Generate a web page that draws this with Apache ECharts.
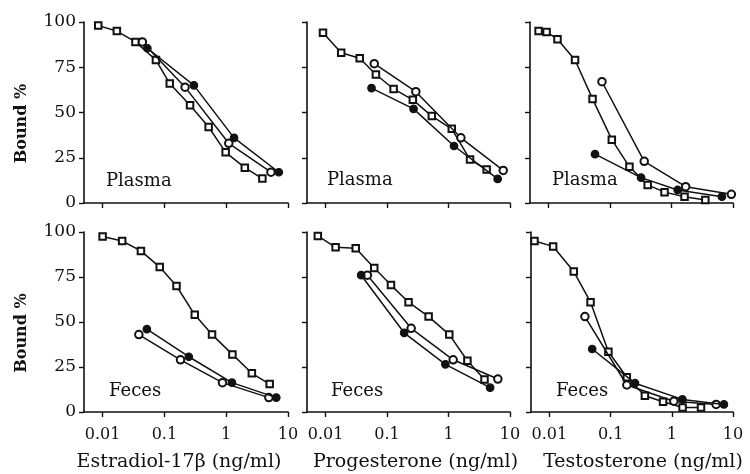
<!DOCTYPE html>
<html>
<head>
<meta charset="utf-8">
<script src="https://cdn.jsdelivr.net/npm/echarts@6/dist/echarts.min.js"></script>
<style>
html,body{margin:0;padding:0;background:#fff;}
#chart{width:750px;height:474px;}
</style>
</head>
<body>
<div id="chart"></div>
<script>
// ---- data: [concentration (ng/ml), bound %] ----
const estradiolPlasmaSquares = [[0.0085,98],[0.017,95],[0.034,89],[0.073,79],[0.122,66],[0.26,54],[0.52,42],[0.98,28],[2.0,19.5],[3.85,13.5]];
const estradiolPlasmaOpen    = [[0.044,89],[0.216,64],[1.1,33],[5.3,17]];
const estradiolPlasmaFilled  = [[0.053,85.5],[0.30,65],[1.34,36],[7.1,17]];

const progesteronePlasmaSquares = [[0.0091,94],[0.018,83],[0.036,80],[0.066,71],[0.128,63],[0.263,57],[0.535,48],[1.13,41],[2.24,24],[4.17,18.5]];
const progesteronePlasmaOpen    = [[0.062,77],[0.294,61.5],[1.59,36],[7.76,18]];
const progesteronePlasmaFilled  = [[0.056,63.5],[0.27,52],[1.23,31.5],[6.3,13.3]];

const testosteronePlasmaSquares = [[0.0069,95],[0.0093,94.5],[0.014,90.5],[0.027,79],[0.052,57.5],[0.107,35],[0.207,20],[0.41,10],[0.77,6],[1.63,3.5],[3.55,1.7]];
const testosteronePlasmaOpen    = [[0.074,67],[0.36,23],[1.7,9],[9.4,4.8]];
const testosteronePlasmaFilled  = [[0.057,27],[0.32,14],[1.26,7.2],[6.6,3.5]];

const estradiolFecesSquares = [[0.01,97.5],[0.0207,95],[0.0417,89.5],[0.084,80.5],[0.157,70],[0.31,54],[0.59,43],[1.26,32],[2.6,21.5],[5.05,15.5]];
const estradiolFecesOpen    = [[0.0386,43],[0.182,29],[0.87,16.3],[4.9,8]];
const estradiolFecesFilled  = [[0.052,46],[0.248,30.7],[1.24,16.3],[6.46,8]];

const progesteroneFecesSquares = [[0.0075,97.8],[0.0146,91.5],[0.031,91],[0.062,80],[0.116,70.5],[0.224,61],[0.475,53],[1.03,43],[2.03,28.5],[3.85,18]];
const progesteroneFecesOpen    = [[0.048,76],[0.247,46.5],[1.19,29],[6.35,18.3]];
const progesteroneFecesFilled  = [[0.038,76],[0.19,44],[0.89,26.5],[4.75,13.5]];

const testosteroneFecesSquares = [[0.0057,95],[0.0115,92],[0.025,78],[0.047,61],[0.092,33.5],[0.184,19.3],[0.363,9],[0.72,5.7],[1.5,2.5],[3.0,2.5]];
const testosteroneFecesOpen    = [[0.038,53],[0.184,15],[1.08,6],[5.3,4.2]];
const testosteroneFecesFilled  = [[0.05,35],[0.25,16],[1.49,7],[7.1,4.2]];

const xTickValues = [0.01, 0.1, 1, 10];
const yTickValues = [0, 25, 50, 75, 100];
const panelLabels = ['Plasma','Plasma','Plasma','Feces','Feces','Feces'];
const xAxisNames = ['Estradiol-17\u03b2 (ng/ml)','Progesterone (ng/ml)','Testosterone (ng/ml)'];
const yAxisName = 'Bound %';

const panels = [
  [estradiolPlasmaSquares, estradiolPlasmaOpen, estradiolPlasmaFilled],
  [progesteronePlasmaSquares, progesteronePlasmaOpen, progesteronePlasmaFilled],
  [testosteronePlasmaSquares, testosteronePlasmaOpen, testosteronePlasmaFilled],
  [estradiolFecesSquares, estradiolFecesOpen, estradiolFecesFilled],
  [progesteroneFecesSquares, progesteroneFecesOpen, progesteroneFecesFilled],
  [testosteroneFecesSquares, testosteroneFecesOpen, testosteroneFecesFilled]
];

// ---- layout ----
const FONT = '"DejaVu Serif", "Liberation Serif", serif';
const gridBoxes = [
  {left:84, top:22, width:204, height:181},
  {left:307, top:22, width:203, height:181},
  {left:530, top:22, width:203, height:181},
  {left:84, top:232, width:204, height:180},
  {left:307, top:232, width:203, height:180},
  {left:531, top:232, width:202, height:180}
];
const labelPos = [
  [106,172],[327,171],[552,171],[109,382],[331,382],[556,382]
];
const namePadding = [[0,14,0,0],[0,0,0,14],[0,0,0,22]];

const axisLine = {lineStyle:{color:'#111', width:1.6}};
const isPow10 = v => Math.abs(Math.log10(v) - Math.round(Math.log10(v))) < 1e-6;

const option = {
  animation:false,
  backgroundColor:'#fff',
  grid: gridBoxes.map(g => Object.assign({containLabel:false}, g)),
  xAxis: gridBoxes.map((g,i) => ({
    type:'log', gridIndex:i, min:0.005, max:10, logBase:10,
    axisLine: axisLine,
    axisTick:{show:true, length:5, inside:false, lineStyle:{color:'#111', width:1.4}, customValues:xTickValues},
    minorTick:{show:false},
    splitLine:{show:false},
    axisLabel:{show:i>=3, customValues:xTickValues, margin:15, color:'#111', fontFamily:FONT, fontSize:16,
      formatter: v => isPow10(v) ? String(+v.toPrecision(3)) : ''},
    name: i>=3 ? xAxisNames[i-3] : '',
    nameLocation:'middle', nameGap:41,
    nameTextStyle:{color:'#111', fontFamily:FONT, fontSize:19,
      padding: i>=3 ? namePadding[i-3] : 0}
  })),
  yAxis: gridBoxes.map((g,i) => ({
    type:'value', gridIndex:i, min:0, max:100, interval:25,
    axisLine: Object.assign({show:true}, axisLine),
    axisTick:{show:true, length:5, lineStyle:{color:'#111', width:1.4}},
    splitLine:{show:false},
    axisLabel:{show:i===0||i===3, margin:8, color:'#111', fontFamily:FONT, fontSize:17},
    name: (i===0||i===3) ? yAxisName : '',
    nameLocation:'middle', nameRotate:90, nameGap:54,
    nameTextStyle:{color:'#111', fontFamily:FONT, fontSize:16, fontWeight:'bold', padding:[0,22,0,0]}
  })),
  graphic: panelLabels.map((t,i) => ({
    type:'text', left:labelPos[i][0], top:labelPos[i][1], silent:true,
    style:{text:t, fill:'#111', font:'18px ' + FONT}
  })),
  series: []
};

const styles = [
  {symbol:'emptyRect', symbolSize:6.5},
  {symbol:'emptyCircle', symbolSize:7.5},
  {symbol:'circle', symbolSize:7.5}
];
panels.forEach((sets,i) => {
  sets.forEach((data,k) => {
    option.series.push({
      type:'line', xAxisIndex:i, yAxisIndex:i, data:data,
      symbol:styles[k].symbol, symbolSize:styles[k].symbolSize, showAllSymbol:true,
      lineStyle:{color:'#111', width:1.5},
      itemStyle:{color:'#111', borderColor:'#111', borderWidth:1.2},
      z: 2 + k
    });
  });
});

const chart = echarts.init(document.getElementById('chart'), null, {renderer:'canvas'});
chart.setOption(option);
</script>
</body>
</html>
